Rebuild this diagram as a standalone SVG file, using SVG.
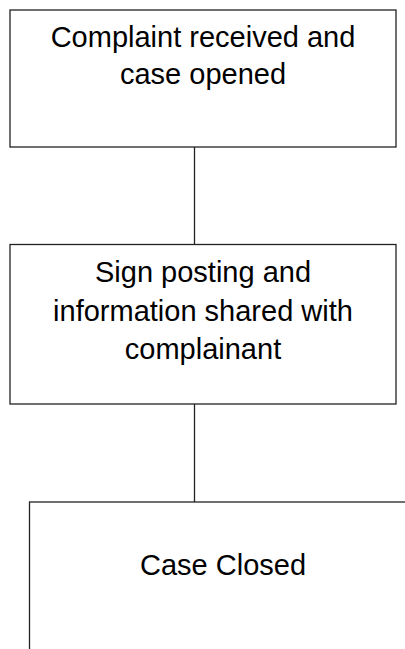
<svg xmlns="http://www.w3.org/2000/svg" width="405" height="649" viewBox="0 0 405 649">
<style>
.box{fill:#fff;stroke:#222;stroke-width:1.3}
.t{font-family:"Liberation Sans",Arial,sans-serif;font-size:29px;fill:#000;text-anchor:middle}
.c{stroke:#222;stroke-width:1.3;fill:none}
</style>
<rect width="405" height="649" fill="#fff"/>
<g id="connectors">
<line class="c" x1="194.5" y1="147" x2="194.5" y2="244.5"/>
<line class="c" x1="194.5" y1="404" x2="194.5" y2="502"/>
</g>
<g id="n1">
<rect class="box" x="10" y="10" width="386" height="137"/>
<text class="t" x="203" y="47">Complaint received and </text>
<text class="t" x="203" y="84">case opened</text>
</g>
<g id="n2">
<rect class="box" x="10" y="244.5" width="386" height="159.5"/>
<text class="t" x="203" y="282">Sign posting and</text>
<text class="t" x="203" y="320.5">information shared with</text>
<text class="t" x="203" y="358.5">complainant</text>
</g>
<g id="n3">
<rect class="box" x="29.5" y="502" width="387" height="200"/>
<text class="t" x="223" y="575">Case Closed</text>
</g>
</svg>
